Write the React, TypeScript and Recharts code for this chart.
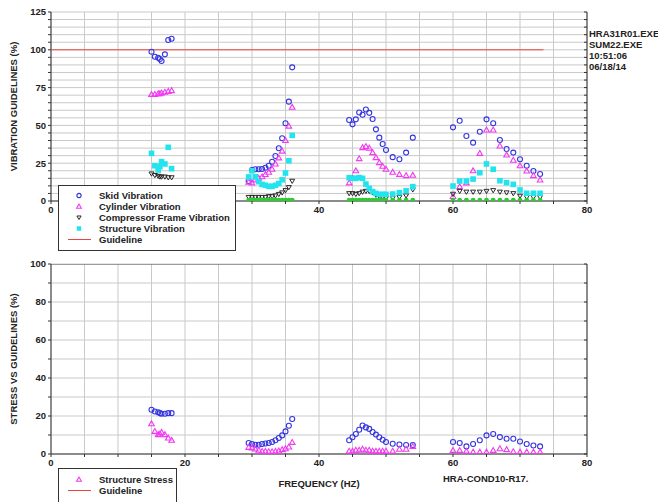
import React from 'react';
import { ScatterChart, Scatter, XAxis, YAxis, CartesianGrid, Legend, Label } from 'recharts';

const FONT = '"Liberation Sans", Arial, Helvetica, sans-serif';
const INK = '#222222';
const BLUE = '#3535e0';
const MAGENTA = '#f23af2';
const DARK = '#2a2a2a';
const CYAN = '#22e4ee';
const GREEN = '#2ccc2c';
const RED = '#e8443c';

// Test frequencies (Hz), four sweeps
const freqHz = [
  15, 15.5, 16, 16.25, 16.5, 17, 17.5, 18,
  29.5, 30, 30.5, 31, 31.5, 32, 32.5, 33, 33.5, 34, 34.5, 35, 35.5, 36,
  44.5, 45, 45.5, 46, 46.5, 47, 47.5, 48, 48.5, 49, 49.5, 50, 51, 52, 53, 54,
  60, 61, 62, 63, 64, 65, 66, 67, 68, 69, 70, 71, 72, 73,
];

// Vibration vs guideline (%)
const skidVibration = [
  98.7, 95.4, 94.7, 93.9, 92.6, 97, 106.5, 107.3,
  13.2, 20.5, 21, 21, 21.2, 22, 23.3, 26, 29.8, 34.9, 41.5, 51.4, 65.7, 88.4,
  53.6, 50.7, 54, 58.5, 57, 60.5, 58.3, 54.2, 47.4, 41.9, 37.7, 33.7, 29, 27.6, 32, 41.9,
  48.7, 53.1, 43, 38.6, 45.8, 54, 51.4, 40.3, 34.4, 32, 27.6, 23.3, 19.8, 17.9,
];
const cylinderVibration = [
  70.5, 70.5, 71, 71, 71.5, 72, 72.5, 73,
  12.5, 12, 14, 15, 16, 17.5, 19, 21, 24.5, 28.5, 33, 40, 49.5, 62,
  12, 15, 20, 28, 35.3, 36, 35, 32, 28.7, 25.4, 23, 21, 19, 17.6, 16.8, 17,
  3, 9.5, 12, 20, 31.5, 47, 47, 36.4, 30.4, 27, 23.3, 19.8, 16.8, 13.9,
];
const compressorFrameVibration = [
  18, 17, 16.5, 16, 16, 16, 15.5, 15.5,
  2.5, 2.5, 2.5, 2.5, 2.5, 2.5, 3, 3, 3.5, 4.5, 5.5, 7, 9, 13.2,
  5, 5, 4.5, 5, 6, 6.5, 6.5, 5.5, 4, 3, 2.5, 2, 2, 2.5, 3.5, 7.5,
  4.6, 6.5, 6, 6, 6, 6.5, 7, 6, 5.5, 5, 3.3, 2.5, 2.5, 2.5,
];
const structureVibration = [
  31.5, 23.3, 20.5, 22.7, 26, 24.5, 35.5, 21.4,
  15.9, 20, 16, 12.8, 11, 10.4, 9.7, 9.7, 10.4, 11.5, 14, 18.5, 26.6, 43.4,
  15.4, 15, 15, 15.5, 15, 11.2, 8.4, 6.2, 5, 4.4, 4.4, 4.4, 4.6, 5.5, 6.8, 9.5,
  9.9, 13.2, 13.2, 14.5, 18.7, 24.5, 21, 13.4, 12.1, 11, 7.3, 5.1, 5.1, 5.1,
];
const baseVibration: (number | null)[] = [
  null, null, null, null, null, null, null, null,
  0.6, 0.6, 0.6, 0.6, 0.6, 0.6, 0.6, 0.6, 0.6, 0.6, 0.6, 0.6, 0.6, 0.6,
  0.6, 0.6, 0.6, 0.6, 0.6, 0.6, 0.6, 0.6, 0.6, 0.6, 0.6, 0.6, 0.6, 0.6, 0.6, 0.6,
  0.6, 0.6, 0.6, 0.6, 0.6, 0.6, 0.6, 0.6, 0.6, 0.6, 0.6, 0.6, 0.6, 0.6,
];

// Stress vs guideline (%)
const skidStress = [
  23.3, 22.4, 22, 21.5, 21.2, 21.2, 21.5, 21.5,
  5.8, 5.3, 4.9, 4.9, 5.3, 5.5, 5.8, 6.3, 7.2, 8.4, 9.8, 11.9, 14.9, 18.4,
  7.2, 8.8, 10.5, 12.8, 15, 14, 13.2, 11.6, 10.2, 8.8, 7.5, 6.3, 5.4, 5, 4.7, 4.7,
  6.3, 5.8, 4, 5.3, 7.2, 9.8, 10.5, 8.9, 8, 8, 6.6, 5.3, 4.5, 4,
];
const structureStress = [
  15.9, 11.9, 10.2, 10.5, 11.4, 10.2, 8.4, 7.2,
  3.5, 3.2, 2.6, 2, 1.4, 1.4, 1.2, 1.2, 1.4, 1.6, 2.3, 2.8, 3.7, 6.1,
  1.5, 1.5, 2, 2, 2.5, 2, 2, 1.5, 1.5, 1.5, 1.5, 1.5, 1.5, 2.5, 2.5, 4,
  1.9, 1.9, 1.5, 1, 1, 1, 1.9, 2.8, 2.3, 1.2, 1, 1, 1, 1,
];

// Guideline segments
const vibGuideX = [0, 73.5];
const vibGuideY = 100;
const stressGuideX = [0, 80];
const stressGuideY = 100;

// Axis ticks and labelled values
const freqTicks = [0, 5, 10, 15, 20, 25, 30, 35, 40, 45, 50, 55, 60, 65, 70, 75, 80];
const vibFreqLabels = [0, 40, 60, 80]; // 20 sits under the legend box
const stressFreqLabels = [0, 20, 40, 60, 80];
const vibTicks = [0, 5, 10, 15, 20, 25, 30, 35, 40, 45, 50, 55, 60, 65, 70, 75, 80, 85, 90, 95, 100, 105, 110, 115, 120, 125];
const vibLabels = [0, 25, 50, 75, 100, 125];
const stressTicks = [0, 10, 20, 30, 40, 50, 60, 70, 80, 90, 100];
const stressLabels = [0, 20, 40, 60, 80, 100];

const runInfo = ['HRA31R01.EXE', 'SUM22.EXE', '10:51:06', '06/18/14'];
const caseName = 'HRA-COND10-R17.';

const toPoints = (xs: number[], ys: (number | null)[]) =>
  xs.map((x, i) => ({ x, y: ys[i] })).filter((p) => p.y !== null && p.y !== undefined);
const lineOf = (xs: number[], y: number) => xs.map((x) => ({ x, y }));

type Kind = 'circle' | 'up' | 'down' | 'square' | 'dot' | 'line';

function Marker({ kind, cx, cy, color, s = 1 }: { kind: Kind; cx: number; cy: number; color: string; s?: number }) {
  if (cx == null || cy == null || isNaN(cx) || isNaN(cy)) return <g />;
  switch (kind) {
    case 'circle':
      return <circle cx={cx} cy={cy} r={2.5 * s} fill="none" stroke={color} strokeWidth={1.1} />;
    case 'up':
      return (
        <polygon
          points={`${cx},${cy - 2.9 * s} ${cx - 2.8 * s},${cy + 2 * s} ${cx + 2.8 * s},${cy + 2 * s}`}
          fill="none"
          stroke={color}
          strokeWidth={1.1}
        />
      );
    case 'down':
      return (
        <polygon
          points={`${cx - 2.5 * s},${cy - 1.8 * s} ${cx + 2.5 * s},${cy - 1.8 * s} ${cx},${cy + 2.4 * s}`}
          fill="none"
          stroke={color}
          strokeWidth={1}
        />
      );
    case 'square':
      return <rect x={cx - 2.8 * s} y={cy - 2.8 * s} width={5.6 * s} height={5.6 * s} fill={color} />;
    case 'dot':
      return <circle cx={cx} cy={cy} r={2.4 * s} fill={color} />;
    default:
      return <line x1={cx - 11} y1={cy} x2={cx + 12} y2={cy} stroke={color} strokeWidth={1} />;
  }
}

const shapeOf = (kind: Kind, color: string) => (p: any) => <Marker kind={kind} cx={p.cx} cy={p.cy} color={color} />;

const vibLegend: { name: string; kind: Kind; color: string }[] = [
  { name: 'Skid Vibration', kind: 'circle', color: BLUE },
  { name: 'Cylinder Vibration', kind: 'up', color: MAGENTA },
  { name: 'Compressor Frame Vibration', kind: 'down', color: DARK },
  { name: 'Structure Vibration', kind: 'square', color: CYAN },
  { name: 'Guideline', kind: 'line', color: RED },
];
const stressLegend: { name: string; kind: Kind; color: string }[] = [
  { name: 'Structure Stress', kind: 'up', color: MAGENTA },
  { name: 'Guideline', kind: 'line', color: RED },
];

const textStyle = { fontFamily: FONT, fontSize: 9.5, fontWeight: 700, fill: INK } as const;

function LegendBox({ items, width, height, padTop }: { items: typeof vibLegend; width: number; height: number; padTop: number }) {
  return (
    <div
      style={{
        width,
        height,
        border: '1px solid #333',
        background: '#fff',
        boxSizing: 'border-box',
        paddingTop: padTop,
      }}
    >
      {items.map((it) => (
        <div key={it.name} style={{ display: 'flex', alignItems: 'center', height: 11 }}>
          <svg width={40} height={11} style={{ display: 'block', flex: 'none' }}>
            <Marker kind={it.kind} cx={20} cy={5.5} color={it.color} s={it.kind === 'square' ? 0.8 : 0.85} />
          </svg>
          <span
            style={{
              fontFamily: FONT,
              fontSize: 9.5,
              fontWeight: 700,
              color: INK,
              lineHeight: '11px',
              whiteSpace: 'nowrap',
            }}
          >
            {it.name}
          </span>
        </div>
      ))}
    </div>
  );
}

const fmt = (labels: number[]) => (v: number) => (labels.includes(v) ? String(v) : '');

function YTitle({ text }: { text: string }) {
  return (props: any) => {
    const vb = props.viewBox || { x: 0, y: 0, height: 0 };
    const cx = vb.x + 13;
    const cy = vb.y + vb.height / 2;
    return (
      <text x={cx} y={cy} transform={`rotate(-90 ${cx} ${cy})`} textAnchor="middle" dominantBaseline="central" {...textStyle}>
        {text}
      </text>
    );
  };
}

function XTitle(props: any) {
  const vb = props.viewBox || { x: 0, y: 0, width: 0 };
  return (
    <text x={vb.x + vb.width / 2} y={vb.y + 29} textAnchor="middle" dominantBaseline="central" {...textStyle}>
      FREQUENCY (HZ)
    </text>
  );
}

const axisCommon = {
  type: 'number' as const,
  allowDataOverflow: true,
  interval: 0 as const,
  tickSize: 3,
  tickMargin: 2,
  axisLine: { stroke: '#333', strokeWidth: 1 },
  tickLine: { stroke: '#333' },
  tick: textStyle,
};

export default function App() {
  return (
    <div
      style={{
        position: 'absolute',
        left: 0,
        top: 0,
        width: 658,
        height: 502,
        overflow: 'hidden',
        background: '#fff',
      }}
    >
      {/* Vibration panel */}
      <div style={{ position: 'absolute', left: 0, top: 0 }}>
        <ScatterChart width={658} height={260} margin={{ top: 12, right: 71, bottom: 39, left: 0 }}>
          <CartesianGrid stroke="#c9c9c9" strokeWidth={1} />
          <XAxis dataKey="x" {...axisCommon} domain={[0, 80]} ticks={freqTicks} tickFormatter={fmt(vibFreqLabels)} height={20} />
          <YAxis dataKey="y" {...axisCommon} domain={[0, 125]} ticks={vibTicks} tickFormatter={fmt(vibLabels)} width={51}>
            <Label content={YTitle({ text: 'VIBRATION GUIDELINES (%)' })} />
          </YAxis>
          <YAxis
            yAxisId="frame"
            orientation="right"
            type="number"
            allowDataOverflow
            domain={[0, 125]}
            ticks={vibTicks}
            interval={0}
            mirror
            tickSize={3}
            tickFormatter={() => ''}
            axisLine={{ stroke: '#333' }}
            tickLine={{ stroke: '#333' }}
            width={1}
          />
          <Legend
            layout="horizontal"
            verticalAlign="middle"
            align="center"
            wrapperStyle={{ left: 58, top: 185, width: 178, height: 66 }}
            content={() => <LegendBox items={vibLegend} width={178} height={66} padTop={3.5} />}
          />
          <Scatter
            name="Guideline"
            data={lineOf(vibGuideX, vibGuideY)}
            line={{ stroke: RED, strokeWidth: 1 }}
            shape={() => <g />}
            isAnimationActive={false}
          />
          <Scatter name="Skid Vibration" data={toPoints(freqHz, skidVibration)} shape={shapeOf('circle', BLUE)} isAnimationActive={false} />
          <Scatter name="Cylinder Vibration" data={toPoints(freqHz, cylinderVibration)} shape={shapeOf('up', MAGENTA)} isAnimationActive={false} />
          <Scatter
            name="Compressor Frame Vibration"
            data={toPoints(freqHz, compressorFrameVibration)}
            shape={shapeOf('down', DARK)}
            isAnimationActive={false}
          />
          <Scatter name="Structure Vibration" data={toPoints(freqHz, structureVibration)} shape={shapeOf('square', CYAN)} isAnimationActive={false} />
          <Scatter name="Base" data={toPoints(freqHz, baseVibration)} shape={shapeOf('dot', GREEN)} isAnimationActive={false} legendType="none" />
        </ScatterChart>
      </div>

      {/* Stress panel */}
      <div style={{ position: 'absolute', left: 0, top: 250 }}>
        <ScatterChart width={658} height={252} margin={{ top: 14, right: 71, bottom: 8, left: 0 }}>
          <CartesianGrid stroke="#c9c9c9" strokeWidth={1} />
          <XAxis dataKey="x" {...axisCommon} domain={[0, 80]} ticks={freqTicks} tickFormatter={fmt(stressFreqLabels)} height={40}>
            <Label content={XTitle} />
          </XAxis>
          <YAxis dataKey="y" {...axisCommon} domain={[0, 100]} ticks={stressTicks} tickFormatter={fmt(stressLabels)} width={51}>
            <Label content={YTitle({ text: 'STRESS VS GUIDELINES (%)' })} />
          </YAxis>
          <YAxis
            yAxisId="frame"
            orientation="right"
            type="number"
            allowDataOverflow
            domain={[0, 100]}
            ticks={stressTicks}
            interval={0}
            mirror
            tickSize={3}
            tickFormatter={() => ''}
            axisLine={{ stroke: '#333' }}
            tickLine={{ stroke: '#333' }}
            width={1}
          />
          <Legend
            layout="horizontal"
            verticalAlign="middle"
            align="center"
            wrapperStyle={{ left: 58, top: 218, width: 119, height: 44 }}
            content={() => <LegendBox items={stressLegend} width={119} height={44} padTop={4.8} />}
          />
          <Scatter
            name="Guideline"
            data={lineOf(stressGuideX, stressGuideY)}
            line={{ stroke: '#555', strokeWidth: 1 }}
            shape={() => <g />}
            isAnimationActive={false}
          />
          <Scatter name="Skid Stress" data={toPoints(freqHz, skidStress)} shape={shapeOf('circle', BLUE)} isAnimationActive={false} legendType="none" />
          <Scatter name="Structure Stress" data={toPoints(freqHz, structureStress)} shape={shapeOf('up', MAGENTA)} isAnimationActive={false} />
        </ScatterChart>
      </div>

      {/* Run information */}
      <div
        style={{
          position: 'absolute',
          left: 589,
          top: 27.8,
          fontFamily: FONT,
          fontSize: 9.5,
          fontWeight: 700,
          color: INK,
          lineHeight: '11px',
          whiteSpace: 'nowrap',
        }}
      >
        {runInfo.map((t) => (
          <div key={t}>{t}</div>
        ))}
      </div>
      <div
        style={{
          position: 'absolute',
          left: 443,
          top: 473,
          fontFamily: FONT,
          fontSize: 9.5,
          fontWeight: 700,
          color: INK,
          lineHeight: '11px',
          whiteSpace: 'nowrap',
        }}
      >
        {caseName}
      </div>
    </div>
  );
}
